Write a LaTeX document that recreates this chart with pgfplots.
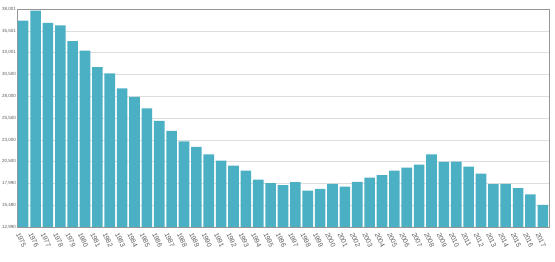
\documentclass[border=0pt]{standalone}
\usepackage{pgfplots}
\pgfplotsset{compat=1.18}
\usepackage{fontspec}
\setmainfont{Liberation Sans}
\definecolor{barc}{RGB}{75,176,196}
\definecolor{gridc}{RGB}{221,221,221}
\definecolor{axc}{RGB}{150,150,150}
\definecolor{txtc}{RGB}{90,90,90}
\begin{document}
\begin{tikzpicture}[x=1pt,y=1pt]
\begin{axis}[
  at={(0,0)}, anchor=south west,
  scale only axis, width=532pt, height=218pt,
  xmin=1974.5, xmax=2017.5,
  ymin=12990, ymax=38001,
  ybar, bar width=10.6pt, bar shift=0pt,
  xtick={1975,...,2017},
  xticklabels={1975,1976,1977,1978,1979,1980,1981,1982,1983,1984,1985,1986,1987,1988,1989,1990,1991,1992,1993,1994,1995,1996,1997,1998,1999,2000,2001,2002,2003,2004,2005,2006,2007,2008,2009,2010,2011,2012,2013,2014,2015,2016,2017},
  x tick label style={font=\fontsize{6.8}{7}\selectfont, text=txtc, rotate=-65, anchor=north west, inner sep=0.3pt, xshift=-1pt, yshift=-2.5pt},
  minor x tick num=1,
  major x tick style={draw=none},
  minor x tick style={draw=axc, line width=0.4pt},
  minor tick length=2.5pt,
  scaled y ticks=false,
  ytick={12990,15491.1,17992.2,20493.3,22994.4,25495.5,27996.6,30497.7,32998.8,35499.9,38001},
  yticklabels={{12,990},{15,490},{17,990},{20,500},{23,000},{25,500},{28,000},{30,500},{33,001},{35,501},{38,001}},
  y tick label style={font=\fontsize{4.5}{5}\selectfont, text=txtc, inner sep=1pt},
  ymajorgrids, grid style={gridc, line width=0.5pt},
  major y tick style={draw=none},
  minor y tick style={draw=none},
  axis line style={axc, line width=0.5pt},
  tick pos=left,
  clip=false,
  /pgf/number format/assume math mode=true,
]
\addplot[fill=barc, draw=none] coordinates {
(1975,36659) (1976,37808) (1977,36395) (1978,36130) (1979,34327)
(1980,33212) (1981,31340) (1982,30616) (1983,28892) (1984,27927)
(1985,26594) (1986,25169) (1987,24020) (1988,22802) (1989,22182)
(1990,21309) (1991,20619) (1992,20045) (1993,19470) (1994,18436)
(1995,18011) (1996,17781) (1997,18126) (1998,17172) (1999,17356)
(2000,17931) (2001,17632) (2002,18161) (2003,18666) (2004,18930)
(2005,19470) (2006,19815) (2007,20160) (2008,21309) (2009,20459)
(2010,20504) (2011,19930) (2012,19126) (2013,17896) (2014,17931)
(2015,17437) (2016,16747) (2017,15518)
};
\end{axis}
\pgfresetboundingbox
\path[use as bounding box] (-17,-35) rectangle (538,227);
\end{tikzpicture}
\end{document}
